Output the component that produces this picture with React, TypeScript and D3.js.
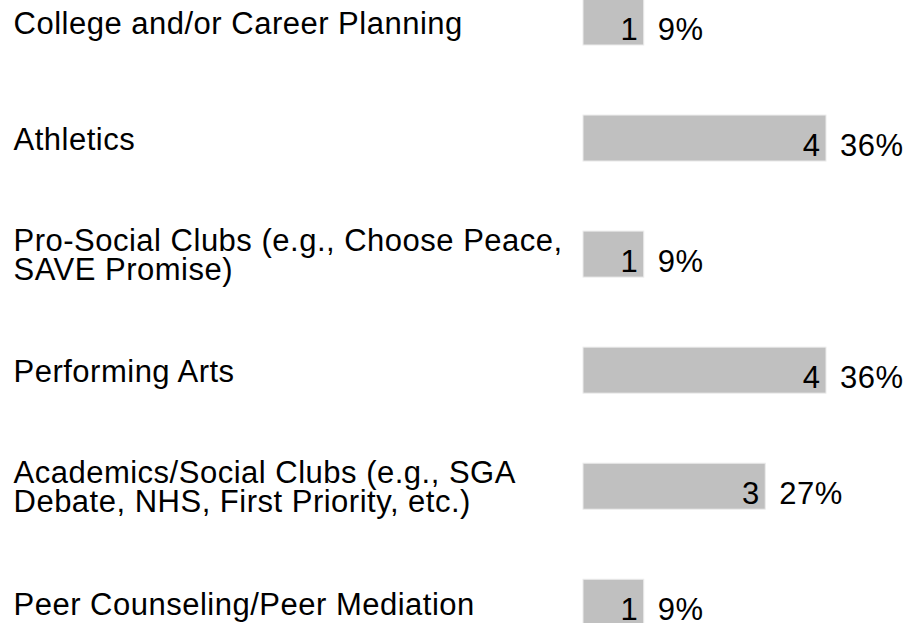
import React from "react";
import * as d3 from "d3";

const categories: string[][] = [
  ["College and/or Career Planning"],
  ["Athletics"],
  ["Pro-Social Clubs (e.g., Choose Peace,", "SAVE Promise)"],
  ["Performing Arts"],
  ["Academics/Social Clubs (e.g., SGA", "Debate, NHS, First Priority, etc.)"],
  ["Peer Counseling/Peer Mediation"],
];
const counts: number[] = [1, 4, 1, 4, 3, 1];
const percents: string[] = ["9%", "36%", "9%", "36%", "27%", "9%"];

const W = 907;
const H = 623;
const FONT = "'Liberation Sans', Arial, sans-serif";

export default function App() {
  const keys = categories.map((_, i) => String(i));
  const x = d3.scaleLinear().domain([0, 4]).range([583, 826]);
  const y = d3
    .scaleBand<string>()
    .domain(keys)
    .range([-1, 625.25])
    .paddingInner(0.6036)
    .paddingOuter(0);
  const bw = y.bandwidth();
  const fs = 31;
  const ls = 0.5;
  const lineH = 29.3;

  return (
    <svg
      width={W}
      height={H}
      style={{ position: "absolute", left: 0, top: 0, background: "#fff" }}
      fontFamily={FONT}
    >
      {keys.map((k, i) => {
        const top = y(k)!;
        const c = top + bw / 2;
        const lines = categories[i];
        const end = x(counts[i]);
        const firstBase = lines.length === 1 ? c + 12.3 : c - 3.1;
        return (
          <g key={k}>
            <text
              x={13.5}
              y={firstBase}
              fontSize={fs}
              letterSpacing={ls}
              fill="#000"
            >
              {lines.map((ln, j) => (
                <tspan key={j} x={13.5} y={firstBase + j * lineH}>
                  {ln}
                </tspan>
              ))}
            </text>
            <rect
              x={x(0)}
              y={top}
              width={end - x(0)}
              height={bw}
              fill="#c0c0c0"
              stroke="#ececec"
              strokeWidth={1}
            />
            <text
              x={end - 5.5}
              y={c + 17.9}
              fontSize={fs}
              letterSpacing={ls}
              textAnchor="end"
              fill="#000"
            >
              {counts[i]}
            </text>
            <text
              x={end + 14}
              y={c + 17.9}
              fontSize={fs}
              letterSpacing={ls}
              fill="#000"
            >
              {percents[i]}
            </text>
          </g>
        );
      })}
    </svg>
  );
}
